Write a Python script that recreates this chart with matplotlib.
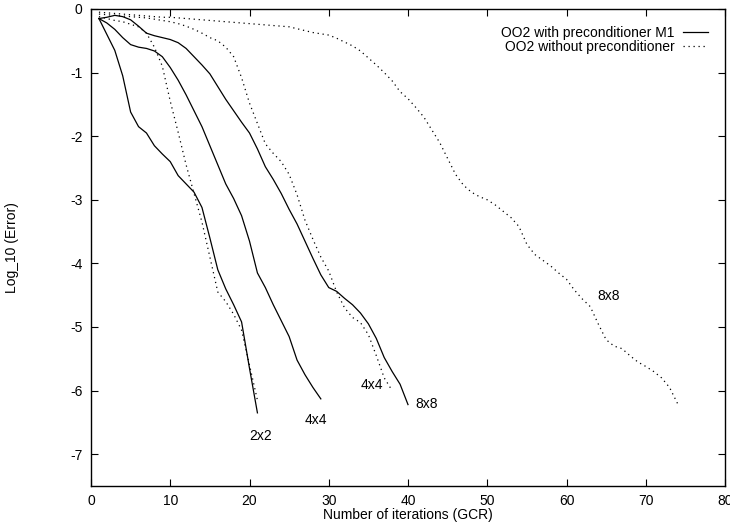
import matplotlib
matplotlib.use("Agg")
import matplotlib.pyplot as plt

plt.rcParams['font.family'] = ['Liberation Sans', 'DejaVu Sans']
plt.rcParams['axes.unicode_minus'] = False

# ---- data ----
it_2x2_pre = list(range(1, 22))
err_2x2_pre = [-0.15, -0.40, -0.65, -1.05, -1.62, -1.85, -1.95, -2.15, -2.28, -2.40,
               -2.62, -2.75, -2.88, -3.12, -3.60, -4.10, -4.40, -4.65, -4.92, -5.65, -6.35]

it_2x2_nopre = list(range(1, 22))
err_2x2_nopre = [-0.12, -0.15, -0.18, -0.20, -0.24, -0.28, -0.38, -0.60, -0.90, -1.45,
                 -1.94, -2.45, -2.90, -3.35, -3.90, -4.45, -4.60, -4.80, -5.05, -5.60, -6.15]

it_4x4_pre = list(range(1, 30))
err_4x4_pre = [-0.15, -0.22, -0.32, -0.45, -0.56, -0.60, -0.62, -0.66, -0.75, -0.92,
               -1.12, -1.35, -1.60, -1.85, -2.15, -2.45, -2.75, -2.98, -3.25, -3.65,
               -4.15, -4.38, -4.65, -4.90, -5.15, -5.52, -5.75, -5.95, -6.13]

it_4x4_nopre = list(range(1, 39))
err_4x4_nopre = [-0.08, -0.09, -0.10, -0.11, -0.12, -0.13, -0.14, -0.16, -0.18, -0.20,
                 -0.23, -0.27, -0.32, -0.38, -0.45, -0.50, -0.60, -0.75, -1.08, -1.48,
                 -1.80, -2.12, -2.27, -2.40, -2.60, -2.92, -3.32, -3.62, -3.90, -4.12,
                 -4.45, -4.70, -4.85, -4.93, -5.12, -5.45, -5.80, -6.00]

it_8x8_pre = list(range(1, 41))
err_8x8_pre = [-0.15, -0.13, -0.10, -0.12, -0.17, -0.27, -0.38, -0.42, -0.45, -0.48,
               -0.53, -0.62, -0.75, -0.88, -1.02, -1.22, -1.42, -1.60, -1.78, -1.95,
               -2.20, -2.48, -2.68, -2.90, -3.15, -3.38, -3.65, -3.92, -4.18, -4.38,
               -4.44, -4.55, -4.65, -4.78, -4.95, -5.18, -5.48, -5.70, -5.90, -6.22]

it_8x8_nopre = list(range(1, 75))
err_8x8_nopre = [-0.05, -0.06, -0.07, -0.08, -0.09, -0.10, -0.11, -0.12, -0.13, -0.13,
                 -0.14, -0.15, -0.16, -0.17, -0.18, -0.19, -0.20, -0.21, -0.22, -0.23,
                 -0.24, -0.25, -0.26, -0.27, -0.28, -0.31, -0.34, -0.37, -0.39, -0.41,
                 -0.46, -0.52, -0.58, -0.66, -0.77, -0.88, -1.00, -1.13, -1.30, -1.41,
                 -1.55, -1.70, -1.90, -2.10, -2.35, -2.60, -2.77, -2.88, -2.95, -3.00,
                 -3.08, -3.18, -3.28, -3.42, -3.70, -3.86, -3.95, -4.04, -4.15, -4.25,
                 -4.42, -4.56, -4.68, -4.95, -5.20, -5.30, -5.34, -5.45, -5.55, -5.62,
                 -5.70, -5.80, -5.95, -6.20]

label_texts = ["2x2", "4x4", "4x4", "8x8", "8x8"]
label_x = [21.45, 28.4, 35.5, 42.4, 65.3]
label_y = [-6.72, -6.47, -5.91, -6.21, -4.51]

legend_labels = ["OO2 with preconditioner M1", "OO2 without preconditioner"]
x_ticks = list(range(0, 81, 10))
y_ticks = list(range(0, -8, -1))

# ---- figure ----
fig = plt.figure(figsize=(7.3, 5.25), dpi=100)
ax = fig.add_axes([91 / 730, 1 - 486 / 525, 634 / 730, 477 / 525])

solid = dict(color='black', lw=0.9, linestyle='-')
dotted = dict(color='black', lw=0.9, linestyle=(0, (1, 3)))

l1, = ax.plot(it_2x2_pre, err_2x2_pre, **solid)
l2, = ax.plot(it_2x2_nopre, err_2x2_nopre, **dotted)
ax.plot(it_4x4_pre, err_4x4_pre, **solid)
ax.plot(it_4x4_nopre, err_4x4_nopre, **dotted)
ax.plot(it_8x8_pre, err_8x8_pre, **solid)
ax.plot(it_8x8_nopre, err_8x8_nopre, **dotted)

for t, x, y in zip(label_texts, label_x, label_y):
    ax.text(x, y, t, ha='center', va='center', fontsize=10)

ax.set_xlim(0, 80)
ax.set_ylim(-7.5, 0)
ax.set_xticks(x_ticks)
ax.set_yticks(y_ticks)
ax.set_xticklabels([str(v) for v in x_ticks])
ax.set_yticklabels([str(v) for v in y_ticks])
ax.tick_params(direction='in', length=5, width=0.8, top=True, right=True,
               labelsize=10, pad=6)
for s in ax.spines.values():
    s.set_linewidth(1.0)

ax.set_xlabel("Number of iterations (GCR)", fontsize=10)
ax.set_ylabel("Log_10 (Error)", fontsize=10)
ax.xaxis.set_label_coords(0.5, -0.047)
ax.yaxis.set_label_coords(-0.113, 0.5)

leg = ax.legend([l1, l2], legend_labels, loc='upper right', frameon=False,
                markerfirst=False, fontsize=10, handlelength=1.8,
                handletextpad=0.65, labelspacing=0.05, borderaxespad=0.8,
                borderpad=0.4)

fig.savefig("out.png", dpi=100)
